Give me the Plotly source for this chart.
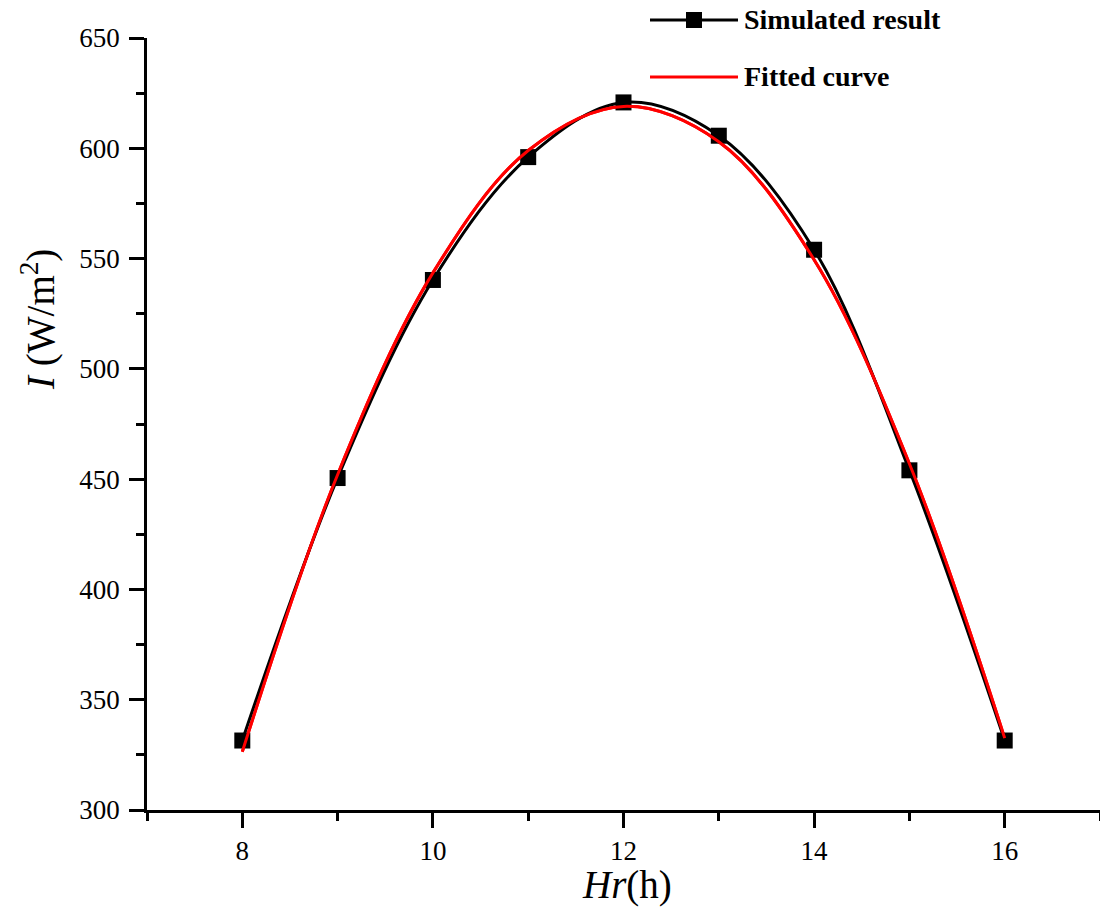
import plotly.graph_objects as go

# Hourly simulated irradiance
hours = [8, 9, 10, 11, 12, 13, 14, 15, 16]
simulated = [331.5, 450.5, 540.3, 596.0, 620.8, 605.7, 554.0, 454.0, 331.5]

# Fitted curve sampled at the same hours
fit_hours = [8, 9, 10, 11, 12, 13, 14, 15, 16]
fitted = [326.4, 452.0, 543.5, 599.0, 619.0, 603.0, 549.5, 457.0, 332.6]

x_ticks = [8, 10, 12, 14, 16]
y_ticks = [300, 350, 400, 450, 500, 550, 600, 650]

FONT = "Liberation Serif"

fig = go.Figure()
fig.add_trace(go.Scatter(
    x=fit_hours, y=fitted, mode="lines", line_shape="spline",
    line=dict(color="#ff0000", width=3), name="Fitted curve", showlegend=False))
fig.add_trace(go.Scatter(
    x=hours, y=simulated, mode="lines+markers", line_shape="spline",
    line=dict(color="black", width=3),
    marker=dict(symbol="square", size=16, color="black"),
    name="Simulated result", showlegend=False))
# Red curve drawn again on top where it overlaps
fig.add_trace(go.Scatter(
    x=fit_hours, y=fitted, mode="lines", line_shape="spline",
    line=dict(color="#ff0000", width=3), showlegend=False, hoverinfo="skip"))

W, H = 1100, 915
L, R, T, B = 147, 0, 38, 105
pw, ph = W - L - R, H - T - B

def px(xpix):
    return (xpix - L) / pw

def py(ypix):
    return (H - B - ypix) / ph

axis_common = dict(
    showline=True, linecolor="black", linewidth=2.5, mirror=False,
    ticks="outside", ticklen=15, tickwidth=2.5, tickcolor="black",
    showgrid=False, zeroline=False,
    tickfont=dict(family=FONT, size=27, color="black"),
)

fig.update_layout(
    width=W, height=H,
    margin=dict(l=L, r=R, t=T, b=B),
    paper_bgcolor="white", plot_bgcolor="white",
    xaxis=dict(range=[7, 17], tickvals=x_ticks,
               minor=dict(dtick=1, tick0=7, ticks="outside", ticklen=8,
                          tickwidth=2.5, tickcolor="black"),
               ticklabelstandoff=0, **axis_common),
    yaxis=dict(range=[300, 650], tickvals=y_ticks,
               minor=dict(dtick=25, tick0=300, ticks="outside", ticklen=8,
                          tickwidth=2.5, tickcolor="black"),
               ticklabelstandoff=4, **axis_common),
    showlegend=False,
)

# Axis titles
fig.add_annotation(x=px(627), y=py(885), xref="paper", yref="paper",
                   xanchor="center", yanchor="middle",
                   text="<i>Hr</i>(h)", showarrow=False,
                   font=dict(family=FONT, size=39, color="black"))
fig.add_annotation(x=px(38), y=py(320), xref="paper", yref="paper",
                   xanchor="center", yanchor="middle",
                   text="<i>I</i> (W/m<sup>2</sup>)", textangle=-90, showarrow=False,
                   font=dict(family=FONT, size=39, color="black"))

# Legend
leg_rows = [(20, "black", "Simulated result", True), (77, "#ff0000", "Fitted curve", False)]
for ypix, col, label, with_marker in leg_rows:
    fig.add_shape(type="line", xref="paper", yref="paper",
                  x0=px(650), x1=px(738), y0=py(ypix), y1=py(ypix),
                  line=dict(color=col, width=3))
    if with_marker:
        fig.add_shape(type="rect", xref="paper", yref="paper",
                      x0=px(686), x1=px(702), y0=py(ypix + 8), y1=py(ypix - 8),
                      fillcolor="black", line=dict(width=0))
    fig.add_annotation(x=px(742), y=py(ypix), xref="paper", yref="paper",
                       xanchor="left", yanchor="middle", text=f"<b>{label}</b>",
                       showarrow=False,
                       font=dict(family=FONT, size=28, color="black"))

fig.write_html("out.html")
